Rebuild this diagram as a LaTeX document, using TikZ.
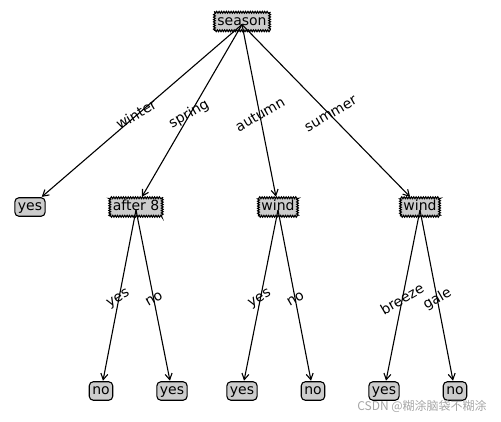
\documentclass[tikz,border=0pt]{standalone}
\usepackage{fontspec}
\setmainfont{DejaVu Sans}
\newfontfamily\cjkfont{Noto Sans CJK SC}
\usetikzlibrary{arrows.meta,decorations.pathmorphing}
\begin{document}
\begin{tikzpicture}[x=1pt,y=-1pt,
  txt/.style={font=\fontsize{14}{16}\selectfont, text height=10.5pt, text depth=3pt},
  decision/.style={txt, draw=black, line width=1.1pt, fill=black!20, inner xsep=3pt, inner ysep=2.5pt,
     decorate, decoration={zigzag, segment length=2.4pt, amplitude=0.9pt}},
  leaf/.style={txt, draw=black, line width=1.1pt, fill=black!20, rounded corners=4pt, inner xsep=3pt, inner ysep=2.5pt},
  lbl/.style={txt, text height=, text depth=, rotate=30, inner sep=0pt},
  arr/.style={-{Straight Barb[length=6pt,width=7pt]}, line width=1.1pt, shorten >=0.5pt},
]
\useasboundingbox (0,0) rectangle (501,421);
% nodes
\node[decision] (season) at (242,21.5) {season};
\node[leaf] (l1) at (30,207) {yes};
\node[decision] (after) at (136,207) {after 8};
\node[decision] (windA) at (278,207) {wind};
\node[decision] (windB) at (420,207) {wind};
\node[leaf] (l2) at (101,391) {no};
\node[leaf] (l3) at (172,391) {yes};
\node[leaf] (l4) at (242,391) {yes};
\node[leaf] (l5) at (313,391) {no};
\node[leaf] (l6) at (384,391) {yes};
\node[leaf] (l7) at (455,391) {no};
% anchor points
\coordinate (pS) at ([yshift=-3pt]season.center);
\coordinate (pA) at ([yshift=-3pt]after.center);
\coordinate (pW) at ([yshift=-3pt]windA.center);
\coordinate (pV) at ([yshift=-3pt]windB.center);
% edges
\draw[arr] (pS) -- (l1);
\draw[arr] (pS) -- (after);
\draw[arr] (pS) -- (windA);
\draw[arr] (pS) -- (windB);
\draw[arr] (pA) -- (l2);
\draw[arr] (pA) -- (l3);
\draw[arr] (pW) -- (l4);
\draw[arr] (pW) -- (l5);
\draw[arr] (pV) -- (l6);
\draw[arr] (pV) -- (l7);
% labels
\path (season.center) -- (l1.center) node[midway, lbl] {winter};
\path (season.center) -- (after.center) node[midway, lbl] {spring};
\path (season.center) -- (windA.center) node[midway, lbl] {autumn};
\path (season.center) -- (windB.center) node[midway, lbl] {summer};
\path (after.center) -- (l2.center) node[midway, lbl] {yes};
\path (after.center) -- (l3.center) node[midway, lbl] {no};
\path (windA.center) -- (l4.center) node[midway, lbl] {yes};
\path (windA.center) -- (l5.center) node[midway, lbl] {no};
\path (windB.center) -- (l6.center) node[midway, lbl] {breeze};
\path (windB.center) -- (l7.center) node[midway, lbl] {gale};
% watermark
\node[font=\cjkfont\fontsize{12}{14}\selectfont, text=black!35, inner sep=0pt] (wm) at (422,406) {CSDN @糊涂脑袋不糊涂};
\end{tikzpicture}
\end{document}
